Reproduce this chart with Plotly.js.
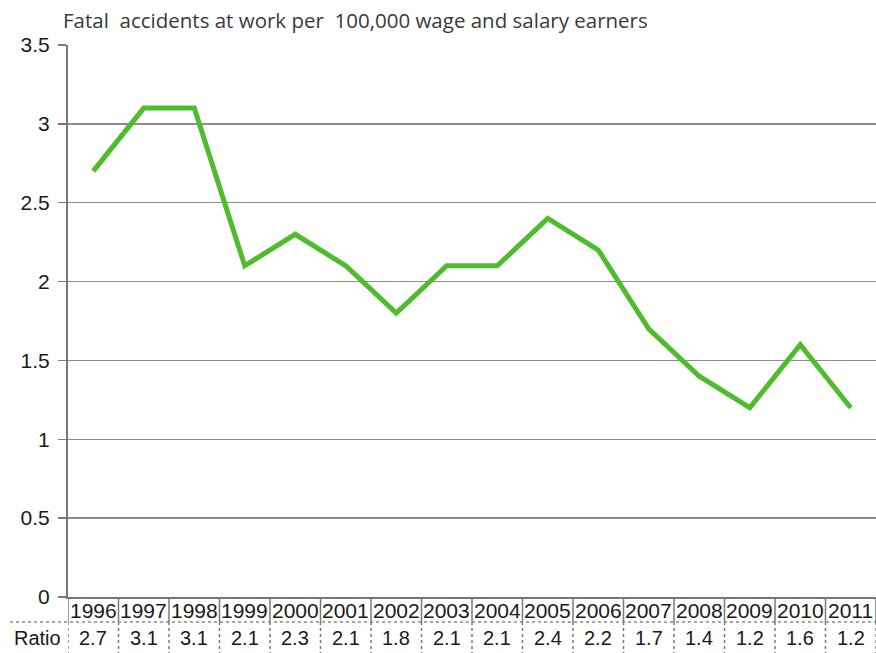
<!DOCTYPE html>
<html>
<head>
<meta charset="utf-8">
<script src="https://cdn.plot.ly/plotly-3.0.1.min.js"></script>
<style>html,body{margin:0;padding:0;background:#fff;overflow:hidden}#chart{width:876px;height:653px}</style>
</head>
<body>
<div id="chart"></div>
<script>
var years = ['1996','1997','1998','1999','2000','2001','2002','2003','2004','2005','2006','2007','2008','2009','2010','2011'];
var ratio = [2.7,3.1,3.1,2.1,2.3,2.1,1.8,2.1,2.1,2.4,2.2,1.7,1.4,1.2,1.6,1.2];
var rowLabel = 'Ratio';
var chartTitle = 'Fatal&nbsp; accidents at work per&nbsp; 100,000 wage and salary earners';

var W = 876, Hh = 653;
var mt = 45, mb = 56, ml = 68, mr = 0;
var ph = Hh - mt - mb;
function py(pix) { return (Hh - mb - pix) / ph; } // pixel y -> paper y

var shapes = [];
var annotations = [];
for (var i = 0; i <= years.length; i++) {
  shapes.push({type:'line', xref:'x', yref:'paper', x0:i-0.5, x1:i-0.5, y0:py(597), y1:py(622),
    line:{color:'#7a7a7a', width:1.5}});
  shapes.push({type:'line', xref:'x', yref:'paper', x0:i-0.5, x1:i-0.5, y0:py(622), y1:py(656),
    line:{color:'#7a7a7a', width:1.5, dash:'dot'}});
}
shapes.push({type:'line', xref:'paper', yref:'paper', x0:(10-ml)/(W-ml-mr), x1:1.01, y0:py(622), y1:py(622),
  line:{color:'#8a8a8a', width:1.5, dash:'dot'}});
for (var j = 0; j < years.length; j++) {
  annotations.push({xref:'x', yref:'paper', x:j, y:py(611), text:years[j], showarrow:false,
    xanchor:'center', yanchor:'middle', font:{family:'Liberation Sans, Arial', size:21, color:'#1a1a1a'}});
  annotations.push({xref:'x', yref:'paper', x:j, y:py(638), text:String(ratio[j]), showarrow:false,
    xanchor:'center', yanchor:'middle', borderpad:0, font:{family:'Liberation Sans, Arial', size:20, color:'#1a1a1a'}});
}
annotations.push({xref:'paper', yref:'paper', x:(62-ml)/(W-ml-mr), y:py(638), text:rowLabel, showarrow:false,
  xanchor:'right', yanchor:'middle', borderpad:0, font:{family:'Liberation Sans, Arial', size:20, color:'#1a1a1a'}});

var trace = {
  x: years.map(function(d,i){return i;}),
  y: ratio,
  type:'scatter', mode:'lines',
  line:{color:'#4dbd2c', width:5},
  hoverinfo:'skip'
};

var layout = {
  width: W, height: Hh,
  margin:{l:ml, r:mr, t:mt, b:mb, pad:0},
  paper_bgcolor:'#fff', plot_bgcolor:'#fff',
  showlegend:false,
  title:{text:chartTitle, x:63/W, xanchor:'left', xref:'container', y:1-21/Hh, yanchor:'middle',
    font:{family:'Open Sans', size:20.5, color:'#3a3a3a'}},
  xaxis:{range:[-0.5, 15.5], showgrid:false, zeroline:false, showticklabels:false, ticks:'',
    showline:true, linecolor:'#777', linewidth:2, fixedrange:true},
  yaxis:{range:[0,3.5], tickvals:[0,0.5,1,1.5,2,2.5,3,3.5], ticktext:['0','0.5','1','1.5','2','2.5','3','3.5'],
    showgrid:true, gridcolor:'#8c8c8c', gridwidth:1.5, zeroline:false,
    showline:true, linecolor:'#777', linewidth:2, ticks:'outside', ticklen:8, tickcolor:'#777', tickwidth:1.5,
    tickfont:{family:'Liberation Sans, Arial', size:21, color:'#1a1a1a'}, ticklabelstandoff:4, fixedrange:true},
  shapes: shapes,
  annotations: annotations
};
Plotly.newPlot('chart', [trace], layout, {displayModeBar:false, staticPlot:true});
</script>
</body>
</html>
